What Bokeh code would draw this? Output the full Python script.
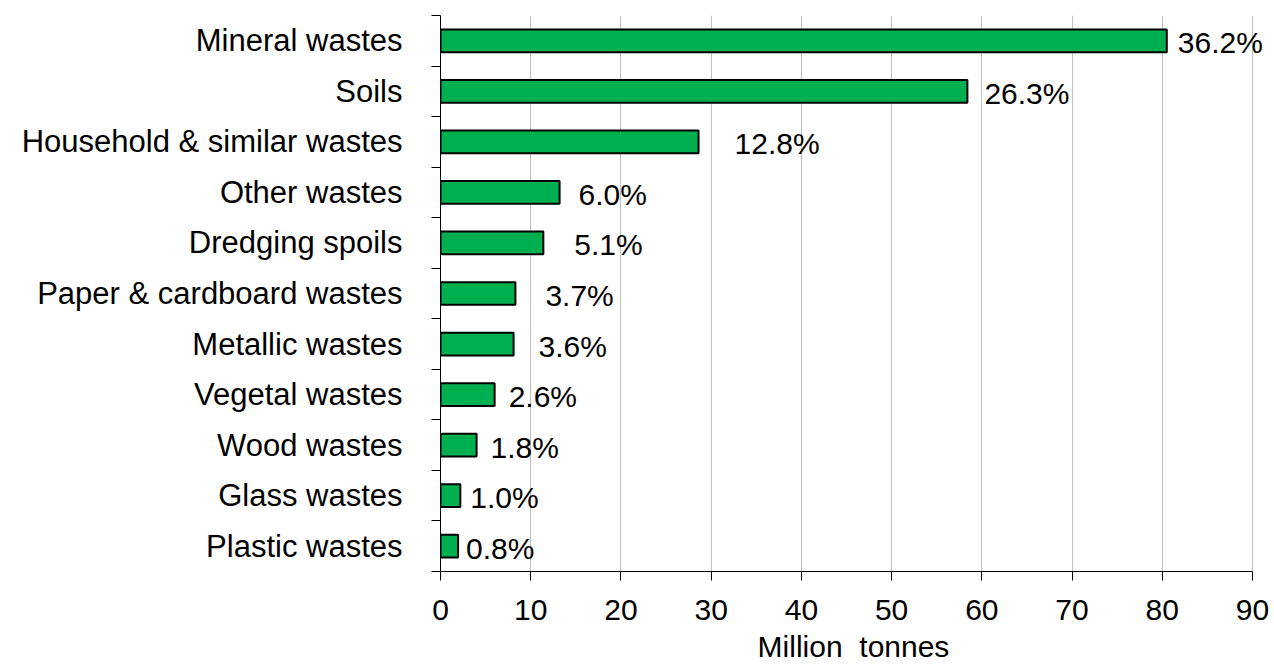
from bokeh.plotting import figure
from bokeh.models import FixedTicker, LabelSet, ColumnDataSource
from bokeh.core.properties import value
from bokeh.embed import file_html
from bokeh.resources import INLINE

categories = ["Mineral wastes", "Soils", "Household & similar wastes", "Other wastes",
              "Dredging spoils", "Paper & cardboard wastes", "Metallic wastes",
              "Vegetal wastes", "Wood wastes", "Glass wastes", "Plastic wastes"]
million_tonnes = [80.5, 58.4, 28.6, 13.2, 11.4, 8.3, 8.1, 6.0, 4.0, 2.2, 1.95]
share_labels = ["36.2%", "26.3%", "12.8%", "6.0%", "5.1%", "3.7%", "3.6%",
                "2.6%", "1.8%", "1.0%", "0.8%"]
x_ticks = [0, 10, 20, 30, 40, 50, 60, 70, 80, 90]
x_title = "Million\u00a0 tonnes"

# style: pixel gap between bar end and its share label
label_gap_px = [11, 17, 36, 19, 31, 30, 25, 14, 14, 10, 8]

FONT = "Liberation Sans"
n = len(categories)
ypos = [n - i - 0.5 for i in range(n)]

src = ColumnDataSource(dict(y=ypos, v=million_tonnes, lab=share_labels, dx=label_gap_px))

# frame extends a little past the last tick so the top label is not clipped
x_end = x_ticks[-1] * 826 / 812

p = figure(width=1274, height=665, x_range=(x_ticks[0], x_end), y_range=(0, n),
           output_backend="svg", toolbar_location=None,
           min_border_left=440, min_border_right=8, min_border_top=15, min_border_bottom=94)
p.outline_line_color = None
p.background_fill_color = "white"
p.border_fill_color = "white"

p.hbar(y="y", right="v", left=0, height=0.45, source=src,
       fill_color="#00B050", line_color="black", line_width=2)

labels = LabelSet(x="v", y="y", text="lab", x_offset="dx", y_offset=-2, source=src,
                  text_font=value(FONT), text_font_size=value("30px"), text_color=value("black"),
                  text_baseline=value("middle"), text_align=value("left"))
p.add_layout(labels)

# x axis
p.xaxis.ticker = FixedTicker(ticks=x_ticks)
p.xaxis.bounds = (x_ticks[0], x_ticks[-1])
p.xaxis.major_tick_out = 9
p.xaxis.major_tick_in = 0
p.xaxis.minor_tick_out = 0
p.xaxis.minor_tick_in = 0
p.xaxis.major_label_standoff = 19
p.xaxis.major_label_text_font = FONT
p.xaxis.major_label_text_font_size = "30px"
p.xaxis.major_label_text_color = "black"
p.xaxis.axis_line_color = "black"
p.xaxis.major_tick_line_color = "black"
p.xaxis.axis_label = x_title
p.xaxis.axis_label_text_font = FONT
p.xaxis.axis_label_text_font_size = "30px"
p.xaxis.axis_label_text_font_style = "normal"
p.xaxis.axis_label_text_color = "black"
p.xaxis.axis_label_standoff = 7

# y axis
p.yaxis.ticker = FixedTicker(ticks=ypos, minor_ticks=list(range(n + 1)))
p.yaxis.major_label_overrides = {y: c for y, c in zip(ypos, categories)}
p.yaxis.major_tick_out = 0
p.yaxis.major_tick_in = 0
p.yaxis.minor_tick_out = 9
p.yaxis.minor_tick_in = 0
p.yaxis.minor_tick_line_color = "black"
p.yaxis.major_label_standoff = 29
p.yaxis.major_label_text_font = FONT
p.yaxis.major_label_text_font_size = "31px"
p.yaxis.major_label_text_color = "black"
p.yaxis.axis_line_color = "black"

p.ygrid.visible = False
p.xgrid.grid_line_color = "#BFBFBF"
p.xgrid.grid_line_width = 1

open("out.html", "w").write(file_html(p, INLINE))
